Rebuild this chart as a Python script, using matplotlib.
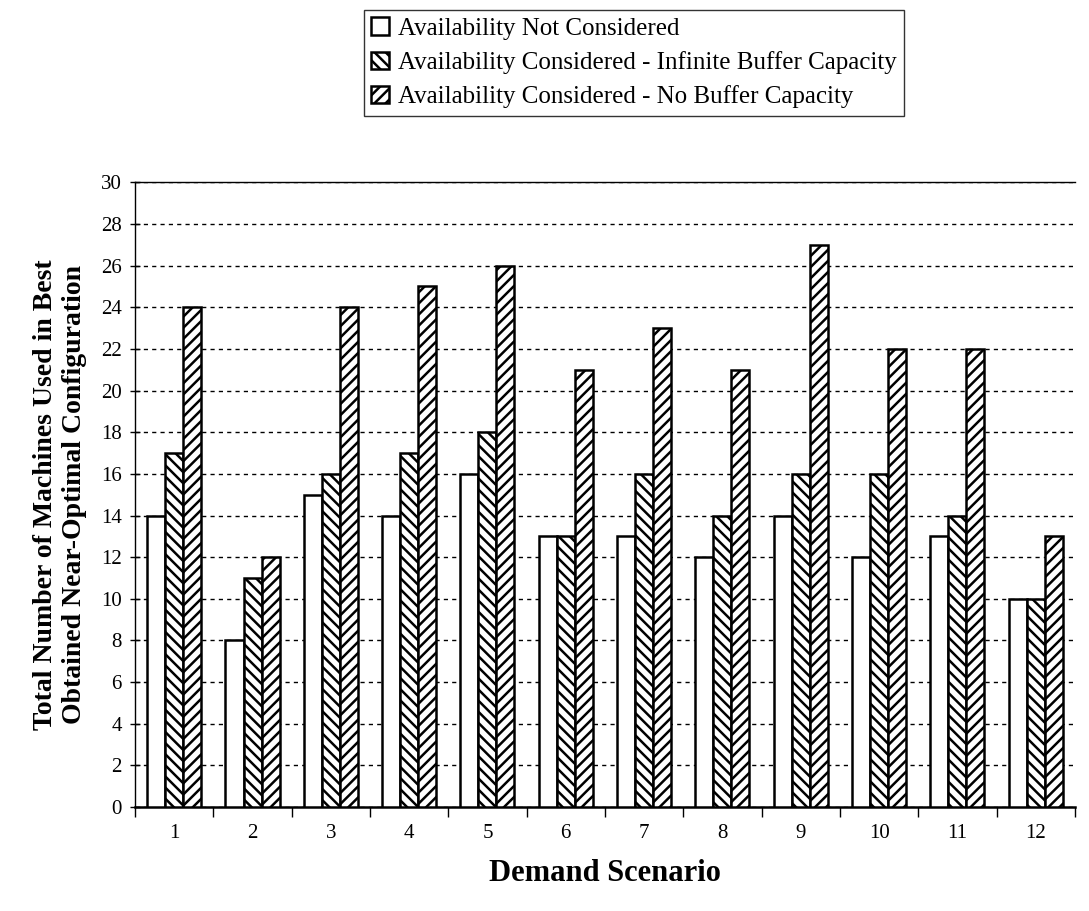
import matplotlib
matplotlib.use("Agg")
import matplotlib.pyplot as plt
import numpy as np

plt.rcParams['font.family'] = ['Liberation Serif', 'DejaVu Serif']
plt.rcParams['hatch.linewidth'] = 1.8

scenarios = ['1', '2', '3', '4', '5', '6', '7', '8', '9', '10', '11', '12']
not_considered = [14, 8, 15, 14, 16, 13, 13, 12, 14, 12, 13, 10]
infinite_buffer = [17, 11, 16, 17, 18, 13, 16, 14, 16, 16, 14, 10]
no_buffer = [24, 12, 24, 25, 26, 21, 23, 21, 27, 22, 22, 13]
series_names = ['Availability Not Considered',
                'Availability Considered - Infinite Buffer Capacity',
                'Availability Considered - No Buffer Capacity']

fig = plt.figure(figsize=(10.89, 9.11), dpi=100)
ax = fig.add_axes([0.124, 0.114, 0.863, 0.686])

x = np.arange(len(scenarios))
w = 0.23
ax.bar(x - w, not_considered, w, color='white', edgecolor='black', linewidth=1.8,
       label=series_names[0], zorder=3)
ax.bar(x, infinite_buffer, w, color='white', edgecolor='black', linewidth=1.8,
       hatch='\\\\\\', label=series_names[1], zorder=3)
ax.bar(x + w, no_buffer, w, color='white', edgecolor='black', linewidth=1.8,
       hatch='///', label=series_names[2], zorder=3)

ax.set_xlim(-0.5, len(scenarios) - 0.5)
ax.set_ylim(0, 30)
ax.set_yticks(range(0, 31, 2))
ax.set_xticks(x)
ax.set_xticklabels(scenarios, fontsize=15)
ax.tick_params(axis='x', which='major', length=0, pad=12)
ax.set_xticks(np.arange(-0.5, len(scenarios), 1), minor=True)
ax.tick_params(axis='x', which='minor', length=7, direction='out', width=1)
ax.tick_params(axis='y', labelsize=15, length=7, direction='inout', width=1, pad=6)
ax.yaxis.grid(True, linestyle=(0, (3, 3)), color='black', linewidth=1.0, zorder=0)
ax.set_axisbelow(True)
ax.spines['right'].set_visible(False)
ax.spines['top'].set_linewidth(1.0)
ax.spines['left'].set_linewidth(1.0)
ax.spines['bottom'].set_linewidth(1.8)

ax.set_ylabel('Total Number of Machines Used in Best\nObtained Near-Optimal Configuration',
              fontsize=20, fontweight='bold', labelpad=10)
ax.set_xlabel('Demand Scenario', fontsize=22, fontweight='bold', labelpad=12)

leg = fig.legend(loc='upper center', bbox_to_anchor=(0.582, 1.003), fontsize=18,
                 frameon=True, fancybox=False, edgecolor='black',
                 handlelength=0.7, handleheight=0.7, handletextpad=0.35,
                 labelspacing=0.45, borderpad=0.3)
leg.get_frame().set_linewidth(1.0)

fig.savefig('out.png', dpi=100)
